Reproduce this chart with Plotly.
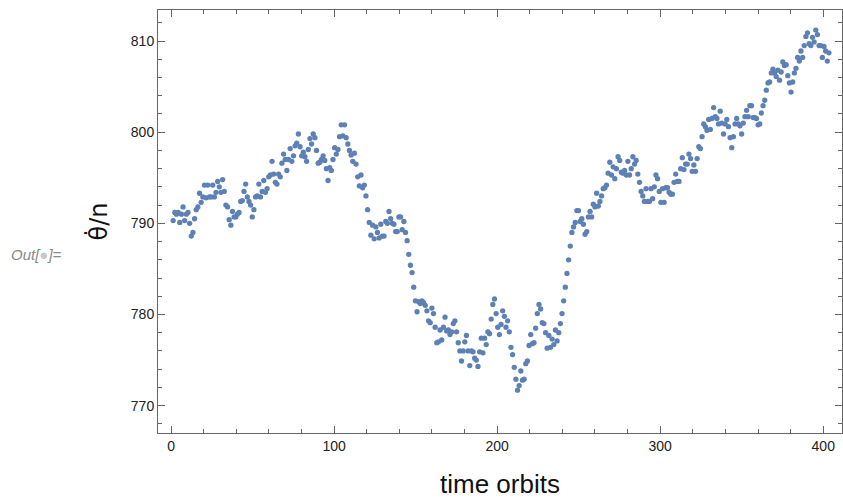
import numpy as np
import plotly.graph_objects as go

# theta-dot / n, one value per orbit (in order)
seg1 = [790.3, 791.2, 791.0, 791.2, 790.1, 791.0, 791.8, 790.3, 791.0, 791.2,
        790.0, 788.6, 789.0, 790.5, 791.5, 791.8, 793.3, 792.3, 792.9, 794.2,
        792.8, 794.2, 792.9, 792.9, 794.2, 792.9, 793.4, 794.6, 794.0, 793.4,
        794.8, 793.5, 792.0, 791.8, 790.4, 789.8, 791.3, 790.7, 790.7, 791.0,
        791.2, 792.4, 792.5, 793.5, 794.3, 792.9, 792.4, 792.0, 790.7, 791.5,
        792.9, 793.0, 794.3, 792.9, 793.5, 794.7, 793.4, 793.8, 795.1, 795.3,
        796.8, 795.4, 794.5, 794.3, 795.4, 795.1, 796.6, 797.6, 797.0, 795.8,
        797.0, 798.2, 796.8, 797.4, 798.5, 798.8, 799.8, 798.4, 797.4, 797.8,
        797.3, 796.8, 798.1, 799.3, 798.7, 799.8, 799.4, 798.0, 796.6, 796.7,
        797.0, 797.4, 796.9, 796.0, 794.7, 796.1, 795.8, 797.0, 798.3, 797.6]
seg2 = [798.1, 799.5, 800.8, 799.6, 800.8, 799.4, 798.7, 798.0, 797.5, 796.8,
        797.7, 796.5, 795.1, 794.1, 795.3, 793.9, 794.2, 793.0, 791.5, 790.1,
        788.7, 789.8, 788.3, 789.6, 789.0, 788.4, 789.9, 788.6, 788.6, 790.2,
        790.0, 791.3, 790.5, 790.0, 789.9, 789.1, 789.1, 790.7, 790.7, 789.3,
        790.2, 789.0, 788.1, 786.6, 785.4, 784.6, 783.0, 781.5, 780.3, 781.4,
        781.2, 781.5, 781.3, 781.0, 780.4, 779.3, 779.1, 780.7, 780.1, 778.6,
        776.9, 777.0, 778.3, 777.2, 778.6, 779.7, 778.2, 778.3, 777.8, 778.1,
        779.0, 779.3, 778.1, 776.9, 776.0, 774.9, 776.0, 777.0, 777.7, 776.0,
        774.4, 776.0, 775.9, 775.2, 775.0, 774.3, 775.9, 777.4, 775.8, 777.4,
        776.7, 778.1, 777.9, 779.5, 781.1, 781.7, 780.1, 778.6, 777.8, 778.9,
        780.4, 779.8, 778.6]
seg3 = [779.3, 778.1, 776.4, 775.6, 774.2, 772.9, 771.7, 772.2, 773.8, 772.8,
        772.9, 774.6, 774.9, 776.6, 777.8, 776.8, 776.9, 778.5, 780.1, 781.1,
        780.6, 779.1, 779.0, 778.0, 776.3, 777.7, 776.4, 777.3, 776.7, 778.3,
        777.1, 778.0, 779.0, 780.1, 781.5, 783.0, 784.5, 786.0, 787.5, 789.0,
        789.6, 790.1, 791.4, 791.4, 790.2, 790.5, 789.9, 788.8, 789.1, 790.7,
        791.3, 790.7, 792.1, 791.8, 793.3, 791.9, 792.4, 793.0, 793.8, 793.9,
        794.2, 795.5, 796.7, 795.3, 796.2, 794.9, 796.0, 797.3, 796.9, 795.6,
        795.5, 795.8, 795.3, 796.8, 795.3, 796.0, 797.3, 796.5, 796.9, 795.4,
        794.5, 793.5, 793.0, 792.4, 793.8, 792.4, 792.4, 793.8, 792.7, 794.0,
        795.3, 794.9, 793.5, 792.3, 793.8, 792.3, 793.9, 793.9, 793.4, 793.2,
        793.2, 794.5, 795.4]
seg4 = [794.6, 794.6, 796.0, 797.2, 795.9, 796.5, 796.5, 797.6, 797.1, 795.7,
        796.4, 795.7, 797.1, 798.4, 798.2, 799.5, 800.9, 800.6, 800.2, 801.4,
        800.3, 801.5, 802.7, 801.7, 801.5, 800.9, 802.3, 801.0, 799.8, 800.9,
        801.4, 800.6, 799.4, 798.3, 799.5, 800.9, 801.5, 800.9, 800.7, 799.8,
        801.0, 801.7, 802.4, 801.7, 802.9, 802.9, 801.6, 801.6, 801.5, 800.8,
        800.9, 802.1, 802.9, 803.5, 804.6, 805.4, 805.5, 806.5, 806.9, 806.5,
        806.1, 806.8, 805.7, 806.6, 807.7, 807.3, 807.4, 806.2, 805.4, 804.4,
        805.5, 806.5, 807.0, 808.2, 807.8, 808.9, 808.2, 809.5, 810.5, 810.9,
        809.7, 809.5, 810.4, 809.9, 811.2, 810.7, 809.5, 809.5, 808.2, 809.4,
        808.9, 807.8, 808.7]
theta_dot = seg1 + seg2 + seg3 + seg4
# sampling times (orbits), evenly spaced over the span seen in the picture
orbit = np.linspace(1.3, 403.5, len(theta_dot))

x_ticks = [0, 100, 200, 300, 400]
y_ticks = [770, 780, 790, 800, 810]

fig = go.Figure()
fig.add_trace(go.Scatter(
    x=orbit, y=theta_dot, mode="markers",
    marker=dict(color="#5E81B5", size=5.3, line=dict(width=0)),
    hoverinfo="x+y", showlegend=False))

axis_common = dict(
    showline=True, linecolor="#666666", linewidth=1, mirror="ticks",
    ticks="inside", ticklen=7, tickwidth=1, tickcolor="#666666",
    showgrid=False, zeroline=False,
    tickfont=dict(family="Liberation Sans, Arial", size=14, color="#222222"),
)

fig.update_layout(
    width=843, height=499,
    margin=dict(l=158, r=1, t=10, b=66),
    paper_bgcolor="white", plot_bgcolor="white",
    xaxis=dict(range=[-8.0, 411.5], tickvals=x_ticks,
               minor=dict(dtick=20, ticks="inside", ticklen=4, tickcolor="#666666"),
               title=dict(text="time orbits", standoff=22,
                          font=dict(family="Liberation Sans, Arial", size=26, color="#111111")),
               **axis_common),
    yaxis=dict(range=[767.0, 813.4], tickvals=y_ticks,
               minor=dict(dtick=2, ticks="inside", ticklen=4, tickcolor="#666666"),
               title=dict(text="θ̇/n", standoff=16,
                          font=dict(family="DejaVu Sans", size=24, color="#111111")),
               **axis_common),
)

fig.add_annotation(
    x=(9 - 158) / 684, y=1 - (255 - 10) / 423, xref="paper", yref="paper",
    xanchor="left", yanchor="middle",
    text="<i>Out[<span style='color:#c8c8c8'>●</span>]=</i>", showarrow=False,
    font=dict(family="Liberation Sans, Arial", size=15, color="#8a8a8a"))

fig.write_html("out.html", config={"displayModeBar": False},
               post_script="document.body.style.margin='0px';")
